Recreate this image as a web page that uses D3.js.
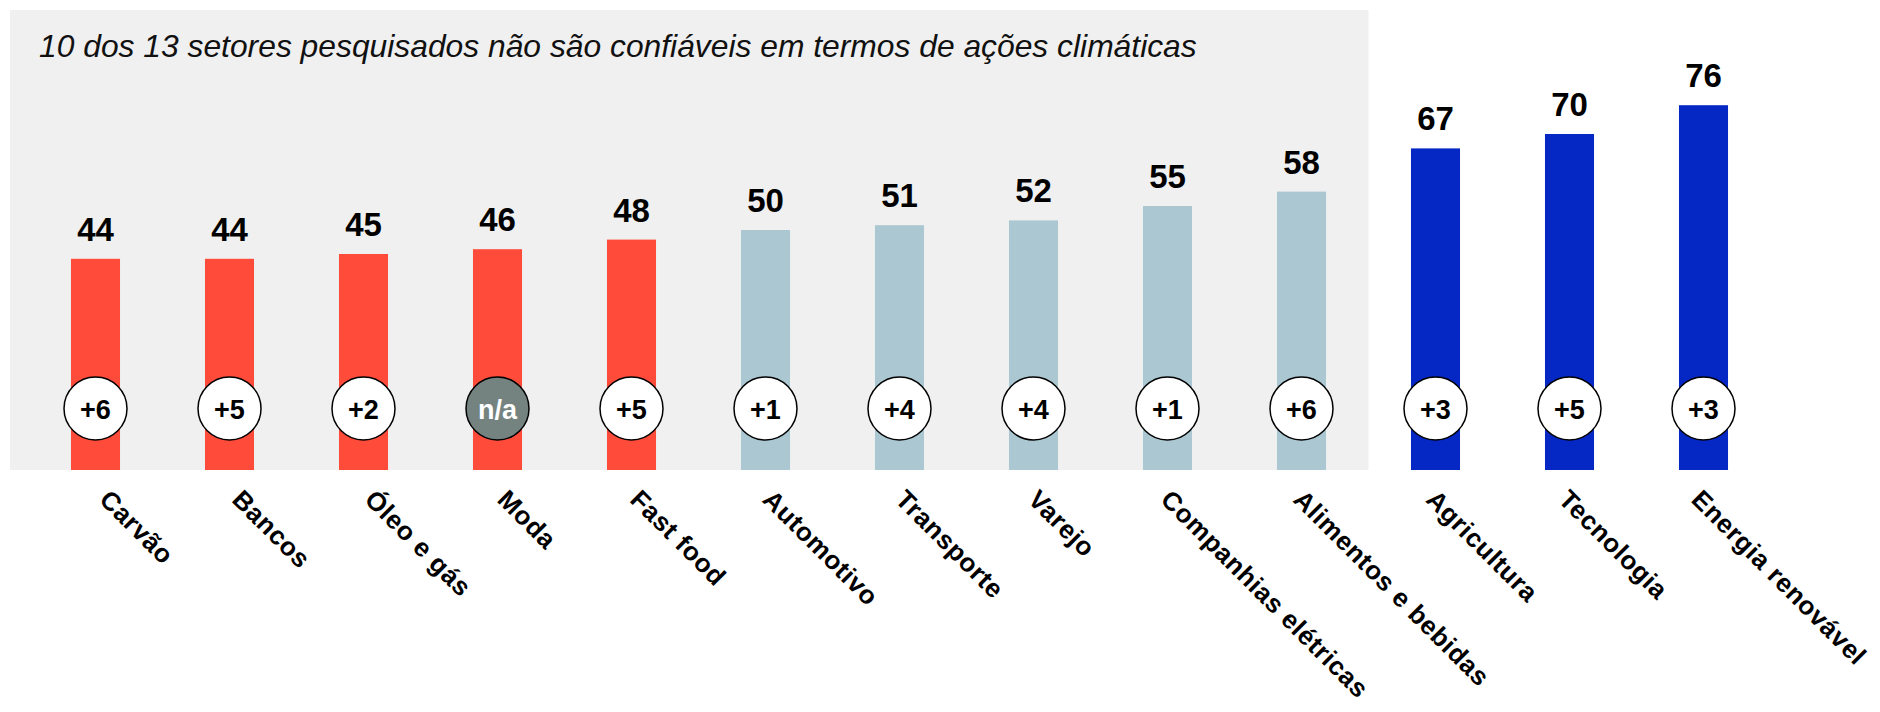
<!DOCTYPE html>
<html>
<head>
<meta charset="utf-8">
<script src="https://cdn.jsdelivr.net/npm/d3@7"></script>
<style>
  body { margin: 0; background: #fff; }
  svg { display: block; font-family: "Liberation Sans", Arial, sans-serif; }
</style>
</head>
<body>
<script>
var sectors = ["Carvão", "Bancos", "Óleo e gás", "Moda", "Fast food",
               "Automotivo", "Transporte", "Varejo", "Companhias elétricas",
               "Alimentos e bebidas", "Agricultura", "Tecnologia", "Energia renovável"];
var scores = [44, 44, 45, 46, 48, 50, 51, 52, 55, 58, 67, 70, 76];
var changes = ["+6", "+5", "+2", "n/a", "+5", "+1", "+4", "+4", "+1", "+6", "+3", "+5", "+3"];
var groups = ["low", "low", "low", "low", "low",
              "mid", "mid", "mid", "mid", "mid",
              "high", "high", "high"];
var title = "10 dos 13 setores pesquisados não são confiáveis em termos de ações climáticas";

var width = 1880,
    height = 712;

var colors = { low: "#ff4b3a", mid: "#abc8d2", high: "#0528c4" };

var data = sectors.map(function(s, i) {
	return { name: s, score: scores[i], change: changes[i], group: groups[i] };
});

var svg = d3.select("body").append("svg")
	.attr("width", width)
	.attr("height", height);

var x = d3.scaleBand()
	.domain(sectors)
	.range([28.5, 1770.5])
	.paddingInner(0.634)
	.paddingOuter(0.317);

// labels sit on a slightly tighter spacing than the bars
var xLabel = d3.scalePoint()
	.domain(sectors)
	.range([98, 1690]);

var y = d3.scaleLinear()
	.domain([0, 100])
	.range([470, -10]);

// gray panel behind the "not trustworthy" sectors
var lastGray = sectors[9];
svg.append("rect")
	.attr("x", 10)
	.attr("y", 10)
	.attr("width", x(lastGray) + x.bandwidth() + (x.step() - x.bandwidth()) / 2 - 10)
	.attr("height", y(0) - 10)
	.attr("fill", "#f0f0f0");

svg.append("text")
	.attr("x", 39)
	.attr("y", 57)
	.attr("font-size", 31.8)
	.attr("font-style", "italic")
	.attr("fill", "#111")
	.text(title);

var bar = svg.append("g")
	.selectAll("g")
	.data(data)
	.enter().append("g");

bar.append("rect")
	.attr("x", function(d) { return x(d.name); })
	.attr("y", function(d) { return y(d.score); })
	.attr("width", x.bandwidth())
	.attr("height", function(d) { return y(0) - y(d.score); })
	.attr("fill", function(d) { return colors[d.group]; });

bar.append("text")
	.attr("x", function(d) { return x(d.name) + x.bandwidth() / 2; })
	.attr("y", function(d) { return y(d.score) - 18; })
	.attr("text-anchor", "middle")
	.attr("font-size", 33)
	.attr("font-weight", "bold")
	.attr("fill", "#000")
	.text(function(d) { return d.score; });

// change badges
bar.append("circle")
	.attr("cx", function(d) { return x(d.name) + x.bandwidth() / 2; })
	.attr("cy", 408.5)
	.attr("r", 31.5)
	.attr("fill", function(d) { return d.change == "n/a" ? "#758380" : "#fff"; })
	.attr("stroke", "#000")
	.attr("stroke-width", 1.5);

bar.append("text")
	.attr("x", function(d) { return x(d.name) + x.bandwidth() / 2; })
	.attr("y", 409)
	.attr("dy", "0.36em")
	.attr("text-anchor", "middle")
	.attr("font-size", 27)
	.attr("font-weight", "bold")
	.attr("fill", function(d) { return d.change == "n/a" ? "#fff" : "#000"; })
	.text(function(d) { return d.change; });

// rotated sector labels
var xAxis = svg.append("g")
	.attr("transform", "translate(0," + y(0) + ")");

xAxis.selectAll("text")
	.data(data)
	.enter().append("text")
	.attr("transform", function(d) {
		return "translate(" + xLabel(d.name) + ",31) rotate(45)";
	})
	.attr("font-size", 26)
	.attr("font-weight", "bold")
	.attr("letter-spacing", 0.6)
	.attr("fill", "#000")
	.text(function(d) { return d.name; });
</script>
</body>
</html>
